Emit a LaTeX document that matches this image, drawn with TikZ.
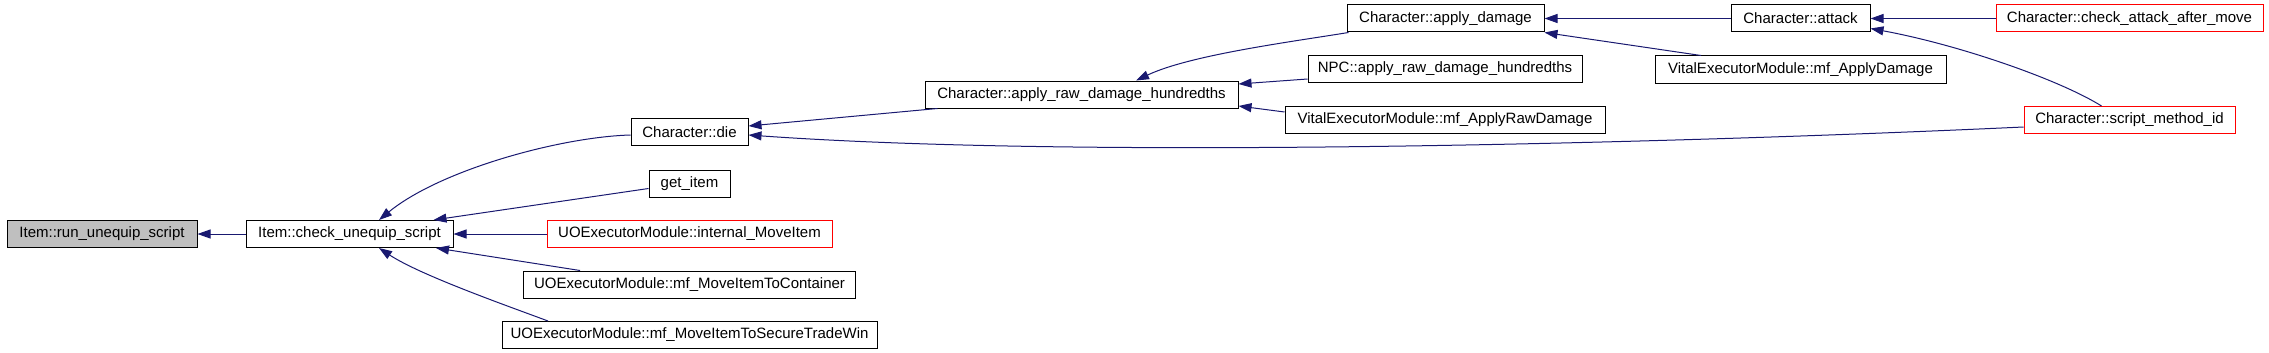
\documentclass[tikz,border=0pt]{standalone}
\usepackage{fontspec}
\setmainfont{Liberation Sans}
\usetikzlibrary{arrows.meta}
\definecolor{edgeblue}{HTML}{191970}
\definecolor{nodegray}{HTML}{BFBFBF}
\definecolor{linkred}{HTML}{FF0000}
\begin{document}
\begin{tikzpicture}[x=1pt,y=-1pt,
  fnbox/.style={draw=black, line width=1pt, fill=white, inner sep=0pt,
    minimum height=27pt, font=\fontsize{15}{18}\selectfont, text=black},
  redbox/.style={fnbox, draw=linkred},
  graybox/.style={fnbox, fill=nodegray},
  call/.style={draw=edgeblue, line width=1pt,
    -{Triangle[length=13pt,width=9pt]}}]
\useasboundingbox (0,0) rectangle (2269,353);

% column 1-2
\node[graybox, minimum width=190pt] (run) at (102,234) {Item::run\_unequip\_script};
\node[fnbox, minimum width=207pt] (check) at (349.5,234) {Item::check\_unequip\_script};
% column 3
\node[fnbox, minimum width=117pt] (die) at (689.5,132) {Character::die};
\node[fnbox, minimum width=81pt] (get) at (689.5,183.5) {get\_item};
\node[redbox, minimum width=285pt] (internal) at (689.5,234) {UOExecutorModule::internal\_MoveItem};
\node[fnbox, minimum width=332pt] (container) at (689.5,284.5) {UOExecutorModule::mf\_MoveItemToContainer};
\node[fnbox, minimum width=375pt] (secure) at (689.5,335) {UOExecutorModule::mf\_MoveItemToSecureTradeWin};
% column 4
\node[fnbox, minimum width=313pt] (raw) at (1081.5,94.5) {Character::apply\_raw\_damage\_hundredths};
% column 5
\node[fnbox, minimum width=197pt] (apply) at (1445.5,18.5) {Character::apply\_damage};
\node[fnbox, minimum width=274pt] (npc) at (1445,69) {NPC::apply\_raw\_damage\_hundredths};
\node[fnbox, minimum width=320pt] (applyraw) at (1445,120) {VitalExecutorModule::mf\_ApplyRawDamage};
% column 6
\node[fnbox, minimum width=139pt] (attack) at (1800.5,18.5) {Character::attack};
\node[fnbox, minimum width=291pt] (applydmg) at (1800.5,69.5) {VitalExecutorModule::mf\_ApplyDamage};
% column 7
\node[redbox, minimum width=267pt] (checkattack) at (2129.5,18.5) {Character::check\_attack\_after\_move};
\node[redbox, minimum width=211pt] (script) at (2129.5,120) {Character::script\_method\_id};

% edges
\draw[call] (check.west) -- (run.east);
\draw[call] ([yshift=-3pt]die.west) .. controls (560,137) and (440,170) .. ([xshift=29.5pt]check.north);
\draw[call] ([yshift=-5pt]get.west) -- ([xshift=84pt]check.north);
\draw[call] (internal.west) -- (check.east);
\draw[call] ([xshift=-109.5pt]container.north) -- ([xshift=86.5pt]check.south);
\draw[call] ([xshift=-141.5pt]secure.north) .. controls (505,305) and (420,275) .. ([xshift=29.5pt]check.south);
\draw[call] ([xshift=13pt]raw.south west) -- ([yshift=6pt]die.east);
\draw[call] ([yshift=-7pt]script.west) .. controls (1700,142) and (1100,160) .. ([yshift=-3pt]die.east);
\draw[call] ([xshift=2pt]apply.south west) .. controls (1290,42) and (1190,55) .. ([xshift=54.5pt]raw.north);
\draw[call] ([yshift=-10pt]npc.west) -- ([yshift=10.5pt]raw.east);
\draw[call] ([yshift=8pt]applyraw.west) -- ([yshift=-11.5pt]raw.east);
\draw[call] (attack.west) -- (apply.east);
\draw[call] ([xshift=-99.5pt]applydmg.north) -- (apply.south east);
\draw[call] (checkattack.west) -- (attack.east);
\draw[call] ([xshift=78pt]script.north west) .. controls (2060,80) and (1960,45) .. ([yshift=4pt]attack.south east);
\end{tikzpicture}
\end{document}
